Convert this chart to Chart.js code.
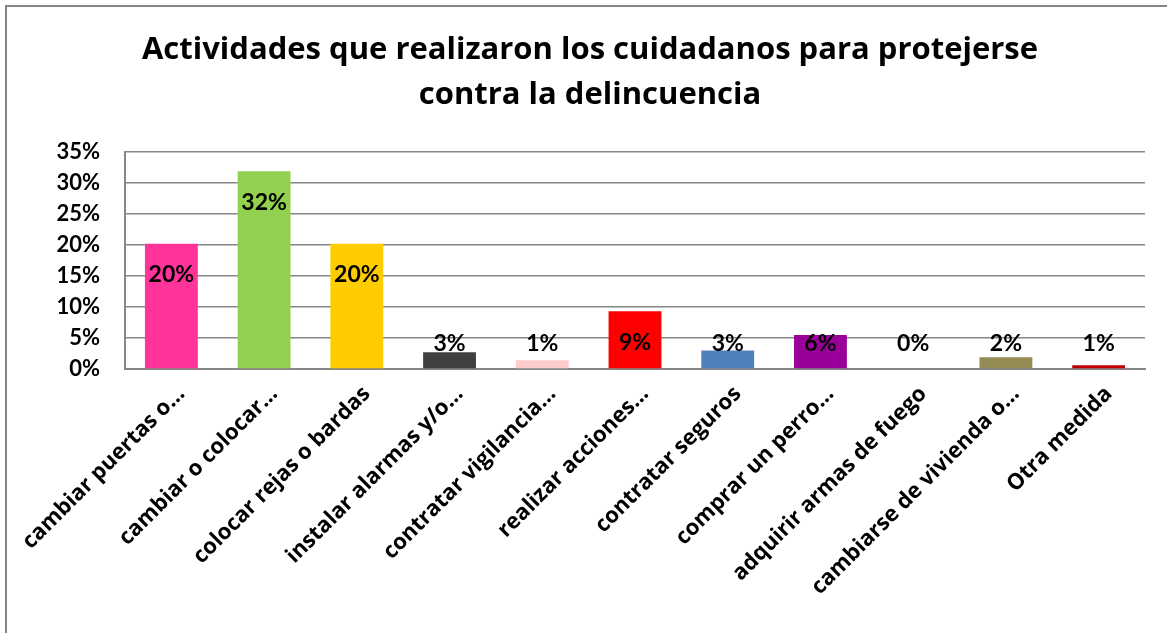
<!DOCTYPE html>
<html>
<head>
<meta charset="utf-8">
<script src="https://cdn.jsdelivr.net/npm/chart.js@4"></script>
<style>
  html, body { margin: 0; padding: 0; background: #fff; }
  #wrap { width: 1167px; height: 633px; position: relative; }
</style>
</head>
<body>
<div id="wrap"><canvas id="chart"></canvas></div>
<script>
const categories = [
  "cambiar puertas o…",
  "cambiar o colocar…",
  "colocar rejas o bardas",
  "instalar alarmas y/o…",
  "contratar vigilancia…",
  "realizar acciones…",
  "contratar seguros",
  "comprar un perro…",
  "adquirir armas de fuego",
  "cambiarse de vivienda o…",
  "Otra medida"
];
const values = [20.2, 31.9, 20.2, 2.7, 1.4, 9.3, 3.0, 5.5, 0, 1.9, 0.6];
const barColors = ["#FF3399", "#92D050", "#FFCC00", "#404040", "#FFCCCC", "#FF0000",
                   "#4F81BD", "#990099", "#7F7F7F", "#948A54", "#C00000"];
const titleLines = ["Actividades que realizaron los cuidadanos para protejerse",
                    "contra la delincuencia"];

const FONT = "Lato";
const WIDE_FONT = "'Open Sans'";

// frame around chart (only top and left edges show)
const framePlugin = {
  id: "frame",
  beforeDraw(chart) {
    const ctx = chart.ctx;
    ctx.save();
    ctx.fillStyle = "#fff";
    ctx.fillRect(0, 0, chart.width, chart.height);
    ctx.strokeStyle = "#868686";
    ctx.lineWidth = 2;
    ctx.beginPath();
    ctx.moveTo(6, chart.height);
    ctx.lineTo(6, 6);
    ctx.lineTo(chart.width, 6);
    ctx.stroke();
    ctx.restore();
  }
};

// percent labels near top of bars
const labelPlugin = {
  id: "barLabels",
  afterDatasetsDraw(chart) {
    const ctx = chart.ctx;
    const meta = chart.getDatasetMeta(0);
    const zeroY = chart.scales.y.getPixelForValue(0);
    ctx.save();
    ctx.font = "bold 23px " + FONT;
    ctx.fillStyle = "#000";
    ctx.textAlign = "center";
    ctx.textBaseline = "middle";
    meta.data.forEach((bar, i) => {
      const y = Math.min(bar.y + 31, zeroY - 25);
      ctx.fillText(Math.round(values[i]) + "%", bar.x, y);
    });
    ctx.restore();
  }
};

new Chart(document.getElementById("chart"), {
  type: "bar",
  data: {
    labels: categories,
    datasets: [{
      data: values,
      backgroundColor: barColors,
      barPercentage: 0.57,
      categoryPercentage: 1
    }]
  },
  options: {
    responsive: true,
    maintainAspectRatio: false,
    animation: false,
    layout: { padding: { top: 0, right: 22, bottom: 0, left: 35 } },
    plugins: {
      legend: { display: false },
      tooltip: { enabled: false },
      title: {
        display: true,
        text: titleLines,
        color: "#000",
        font: { family: WIDE_FONT, size: 31, weight: "bold", lineHeight: 1.45 },
        padding: { top: 28, bottom: 34 }
      }
    },
    scales: {
      x: {
        grid: { display: false },
        border: { display: true, color: "#868686", width: 2 },
        ticks: {
          color: "#000",
          font: { family: WIDE_FONT, size: 22, weight: "bold" },
          maxRotation: 45,
          minRotation: 45,
          autoSkip: false,
          labelOffset: 10,
          padding: 4
        },
        afterFit(scale) { scale.height = 264; }
      },
      y: {
        min: 0,
        max: 35,
        grid: { color: "#868686", lineWidth: 1.5, drawTicks: false },
        border: { display: true, color: "#868686", width: 2 },
        ticks: {
          stepSize: 5,
          color: "#000",
          padding: 25,
          font: { family: FONT, size: 22, weight: "bold" },
          callback: v => v + "%"
        },
        afterFit(scale) { scale.width = 90; }
      }
    }
  },
  plugins: [framePlugin, labelPlugin]
});
</script>
</body>
</html>
